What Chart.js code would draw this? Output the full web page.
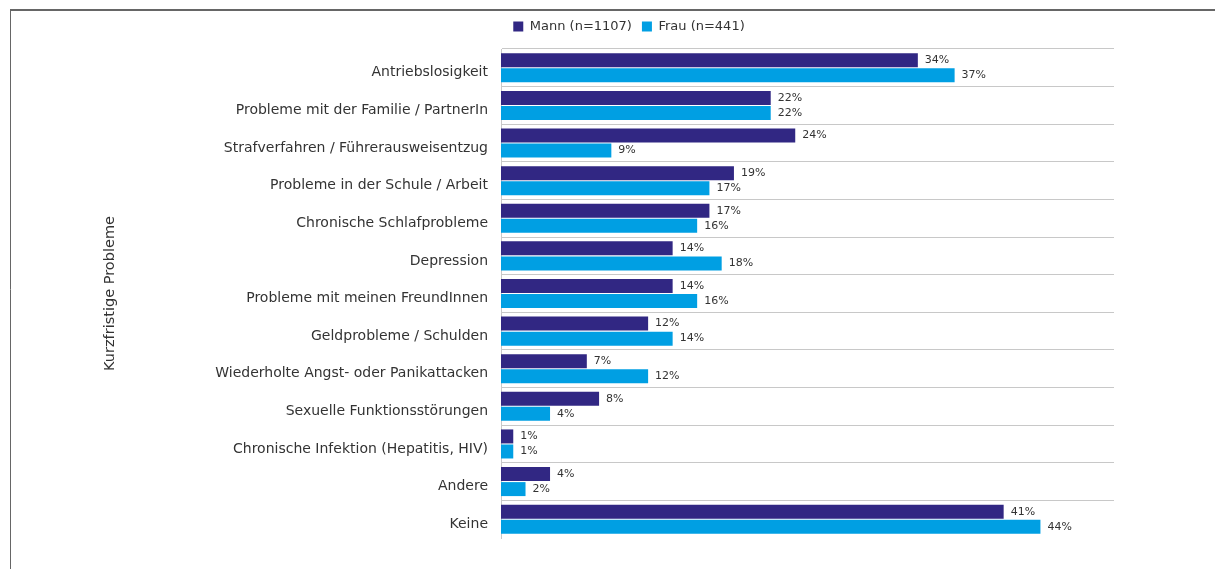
<!DOCTYPE html>
<html>
<head>
<meta charset="utf-8">
<script src="https://cdn.jsdelivr.net/npm/chart.js@4"></script>
<style>
  html, body { margin: 0; padding: 0; background: #fff; }
  canvas { display: block; }
</style>
</head>
<body>
<canvas id="myChart" width="1215" height="569"></canvas>
<script>
const categories = [
  "Antriebslosigkeit",
  "Probleme mit der Familie / PartnerIn",
  "Strafverfahren / Führerausweisentzug",
  "Probleme in der Schule / Arbeit",
  "Chronische Schlafprobleme",
  "Depression",
  "Probleme mit meinen FreundInnen",
  "Geldprobleme / Schulden",
  "Wiederholte Angst- oder Panikattacken",
  "Sexuelle Funktionsstörungen",
  "Chronische Infektion (Hepatitis, HIV)",
  "Andere",
  "Keine",
];
const mannValues = [34, 22, 24, 19, 17, 14, 14, 12, 7, 8, 1, 4, 41];
const frauValues = [37, 22, 9, 17, 16, 18, 16, 14, 12, 4, 1, 2, 44];
const seriesNames = ["Mann (n=1107)", "Frau (n=441)"];
const axisTitle = "Kurzfristige Probleme";

const fontFamily = "'DejaVu Sans', 'Noto Sans', sans-serif";
const textColor = "#333333";

// frame lines round the chart
const framePlugin = {
  id: "frame",
  beforeDraw(chart) {
    const c = chart.ctx;
    c.save();
    c.strokeStyle = "#666666";
    c.lineWidth = 2;
    c.beginPath();
    c.moveTo(10, 10);
    c.lineTo(chart.width, 10);
    c.stroke();
    c.lineWidth = 1;
    c.beginPath();
    c.moveTo(10.5, 10);
    c.lineTo(10.5, chart.height);
    c.stroke();
    c.restore();
  },
  // legend sits a bit right of the canvas centre in the original
  afterLayout(chart) {
    chart.legend.left += 72;
    chart.legend.right += 72;
  },
};

// percent labels next to the bars
const valueLabels = {
  id: "valueLabels",
  afterDatasetsDraw(chart) {
    const c = chart.ctx;
    c.save();
    c.font = "11px " + fontFamily;
    c.fillStyle = textColor;
    c.textAlign = "left";
    c.textBaseline = "middle";
    chart.data.datasets.forEach((ds, i) => {
      chart.getDatasetMeta(i).data.forEach((bar, j) => {
        c.fillText(ds.data[j] + "%", bar.x + 7, bar.y);
      });
    });
    c.restore();
  },
};

const ctx = document.getElementById("myChart");

const chart = new Chart(ctx, {
  type: "bar",
  data: {
    labels: categories,
    datasets: [
      {
        label: seriesNames[0],
        data: mannValues,
        backgroundColor: "#312783",
        categoryPercentage: 0.8,
        barPercentage: 0.93,
      },
      {
        label: seriesNames[1],
        data: frauValues,
        backgroundColor: "#009fe3",
        categoryPercentage: 0.8,
        barPercentage: 0.93,
      },
    ],
  },
  options: {
    responsive: false,
    animation: false,
    indexAxis: "y",
    layout: {
      padding: { top: 10, right: 101, bottom: 31, left: 0 },
    },
    scales: {
      x: {
        position: "top",
        min: 0,
        max: 50,
        ticks: { display: false },
        grid: { display: false },
        border: { display: false },
        afterFit(scale) {
          scale.height = 6;
        },
      },
      y: {
        grid: {
          offset: true,
          drawTicks: false,
          color: (c) => (c.type === "tick" ? "#c8c8c8" : "rgba(0,0,0,0)"),
        },
        border: { display: true, color: "#c8c8c8" },
        ticks: {
          padding: 13,
          labelOffset: 5,
          color: textColor,
          font: { family: fontFamily, size: 14 },
        },
        title: {
          display: true,
          text: axisTitle,
          color: textColor,
          font: { family: fontFamily, size: 14.5 },
          padding: { top: 102, bottom: 0 },
        },
        afterFit(scale) {
          scale.width = 501;
        },
      },
    },
    plugins: {
      legend: {
        display: true,
        position: "top",
        labels: {
          boxWidth: 10,
          boxHeight: 10,
          padding: 10,
          color: textColor,
          font: { family: fontFamily, size: 13 },
        },
      },
      tooltip: { enabled: false },
    },
  },
  plugins: [framePlugin, valueLabels],
});
</script>
</body>
</html>
